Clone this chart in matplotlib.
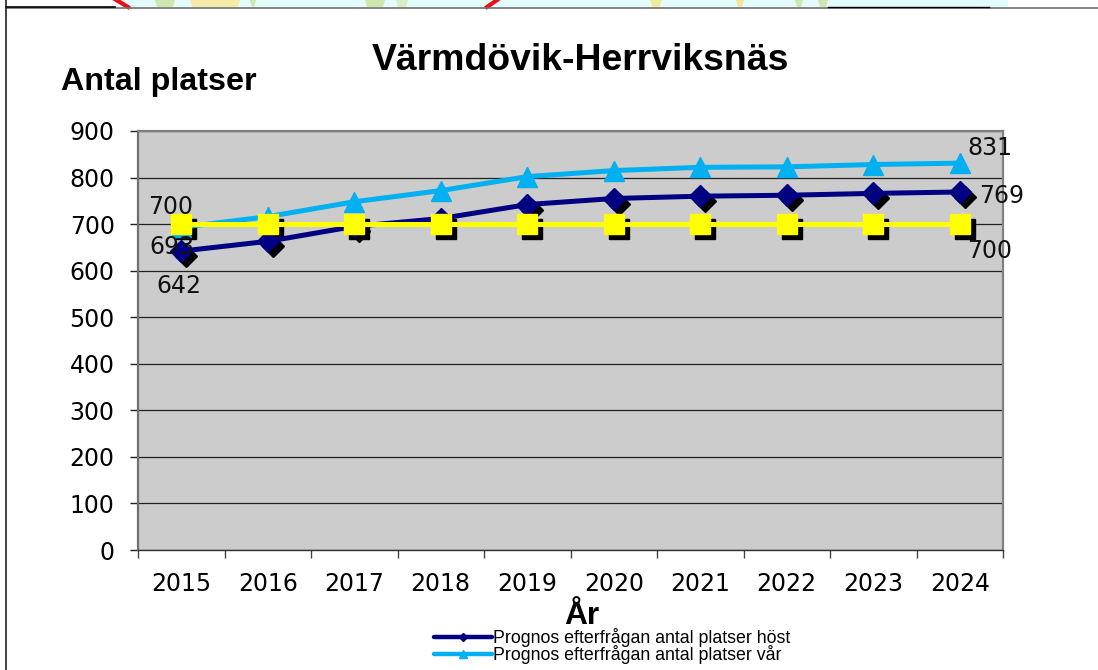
import numpy as np
import matplotlib
matplotlib.use('Agg')
import matplotlib.pyplot as plt
from matplotlib.patches import Rectangle, Polygon
from matplotlib.transforms import offset_copy

years = ['2015', '2016', '2017', '2018', '2019', '2020', '2021', '2022', '2023', '2024']
host = [642, 663, 695, 712, 742, 755, 760, 762, 766, 769]
var = [693, 716, 748, 772, 802, 815, 822, 823, 828, 831]
kapacitet = [700, 700, 700, 700, 700, 700, 700, 700, 700, 700]
yticks = [0, 100, 200, 300, 400, 500, 600, 700, 800, 900]

W, H = 1098, 670
fig = plt.figure(figsize=(W / 100, H / 100), dpi=100, facecolor='white')

# plottytan i pixlar
left, right, top, bottom = 138, 1003, 131, 550
ax = fig.add_axes([left / W, 1 - bottom / H, (right - left) / W, (bottom - top) / H])
ax.set_facecolor('#cccccc')
x = np.arange(len(years))
ax.set_xlim(-0.5, 9.5)
ax.set_ylim(0, 900)

ax.yaxis.grid(True, color='#222222', lw=0.9)
ax.set_axisbelow(True)
for s in ['top', 'right']:
    ax.spines[s].set_color('#808080')
    ax.spines[s].set_linewidth(1.6)
ax.spines['left'].set_color('#707070')
ax.spines['left'].set_linewidth(1.6)
ax.spines['bottom'].set_color('#333333')
ax.spines['bottom'].set_linewidth(1.0)

ax.set_yticks(yticks)
ax.set_yticklabels([str(v) for v in yticks], fontsize=17, family='DejaVu Sans')
ax.set_xticks(np.arange(-0.5, 10, 1))
ax.set_xticklabels([])
ax.set_xticks(x, minor=True)
ax.set_xticklabels(years, minor=True, fontsize=17, family='DejaVu Sans')
ax.tick_params(axis='x', which='major', length=5.8, width=1, color='#444444')
ax.tick_params(axis='x', which='minor', length=0, pad=16)
ax.tick_params(axis='y', length=5.8, width=1, color='#222222', pad=11)

# svarta skuggor bakom markorerna
shadow = offset_copy(ax.transData, fig=fig, x=3.6, y=-3.6, units='points')
ax.plot(x, host, ls='none', marker='D', ms=11, color='black', transform=shadow, zorder=3)
ax.plot(x, kapacitet, ls='none', marker='s', ms=15, color='black', transform=shadow, zorder=3)

ax.plot(x, host, color='#000080', lw=3.6, marker='D', ms=11, zorder=4, label='Prognos efterfrågan antal platser höst')
ax.plot(x, var, color='#00b0f0', lw=3.6, marker='^', ms=14.4, zorder=5, label='Prognos efterfrågan antal platser vår')
ax.plot(x, kapacitet, color='#ffff00', lw=3.6, marker='s', ms=15, zorder=6)

etiketter = [(0, kapacitet[0], -8, 12, '700'), (0, var[0], -7, -14.4, '693'), (0, host[0], -2, -25, '642'),
             (9, var[9], 21.6, 10.8, '831'), (9, host[9], 30, -3, '769'), (9, kapacitet[9], 21.6, -19.4, '700')]
for xi, yi, dx, dy, txt in etiketter:
    ax.annotate(txt, (xi, yi), xytext=(dx, dy), textcoords='offset points', ha='center', va='center',
                fontsize=17, family='DejaVu Sans', color='#111111', zorder=7, annotation_clip=False)

# titlar
fs = 'Liberation Sans'
fig.text(580 / W, 1 - 60 / H, 'Värmdövik-Herrviksnäs', ha='center', va='center', fontsize=26.9,
         fontweight='bold', family=fs)
fig.text(159 / W, 1 - 82 / H, 'Antal platser', ha='center', va='center', fontsize=23.2, fontweight='bold', family=fs)
fig.text(582 / W, 1 - 616 / H, 'År', ha='center', va='center', fontsize=22.8, fontweight='bold', family=fs)

# legend
handles, labels = ax.get_legend_handles_labels()
leg = fig.legend(handles, labels, loc='lower left', bbox_to_anchor=(434 / W, 1 - 664 / H), frameon=False,
                 prop={'family': fs, 'size': 12.75}, handlelength=3.3, handletextpad=0.05, labelspacing=-0.1,
                 borderpad=0, borderaxespad=0, markerscale=0.4)
for h in leg.get_lines():
    h.set_linewidth(3.2)
    h.set_solid_capstyle('round')

# resten av sidan ovanfor diagrammet
bg = fig.add_axes([0, 0, 1, 1], zorder=-1)
bg.set_xlim(0, W)
bg.set_ylim(H, 0)
bg.axis('off')
bg.add_patch(Rectangle((115, 0), 893, 7, color='#e4fbfb', lw=0))
for x0, x1, farg in [(155, 175, '#cfe6b0'), (190, 240, '#f4eba8'), (250, 256, '#cfe6b0'), (365, 385, '#cfe6b0'),
                     (396, 408, '#d8eec6'), (650, 662, '#ecee9c'), (736, 744, '#f8e49c'), (795, 803, '#cfe6b0'),
                     (818, 828, '#cfe6b0')]:
    bg.add_patch(Polygon([(x0, 0), (x1, 0), (x1 - 2, 7), (x0 + 2, 7)], color=farg, lw=0))
bg.plot([113, 128], [-2, 7], color='#e8101a', lw=3)
bg.plot([487, 500], [7, -2], color='#e8101a', lw=3)
bg.plot([6, 1098], [7.5, 7.5], color='#707070', lw=1.2)
bg.plot([6, 115], [7, 7], color='black', lw=1.2)
bg.plot([828, 989], [7, 7], color='black', lw=1)
bg.plot([6, 6], [0, H], color='#222222', lw=1.2)

fig.savefig('out.png', dpi=100)
